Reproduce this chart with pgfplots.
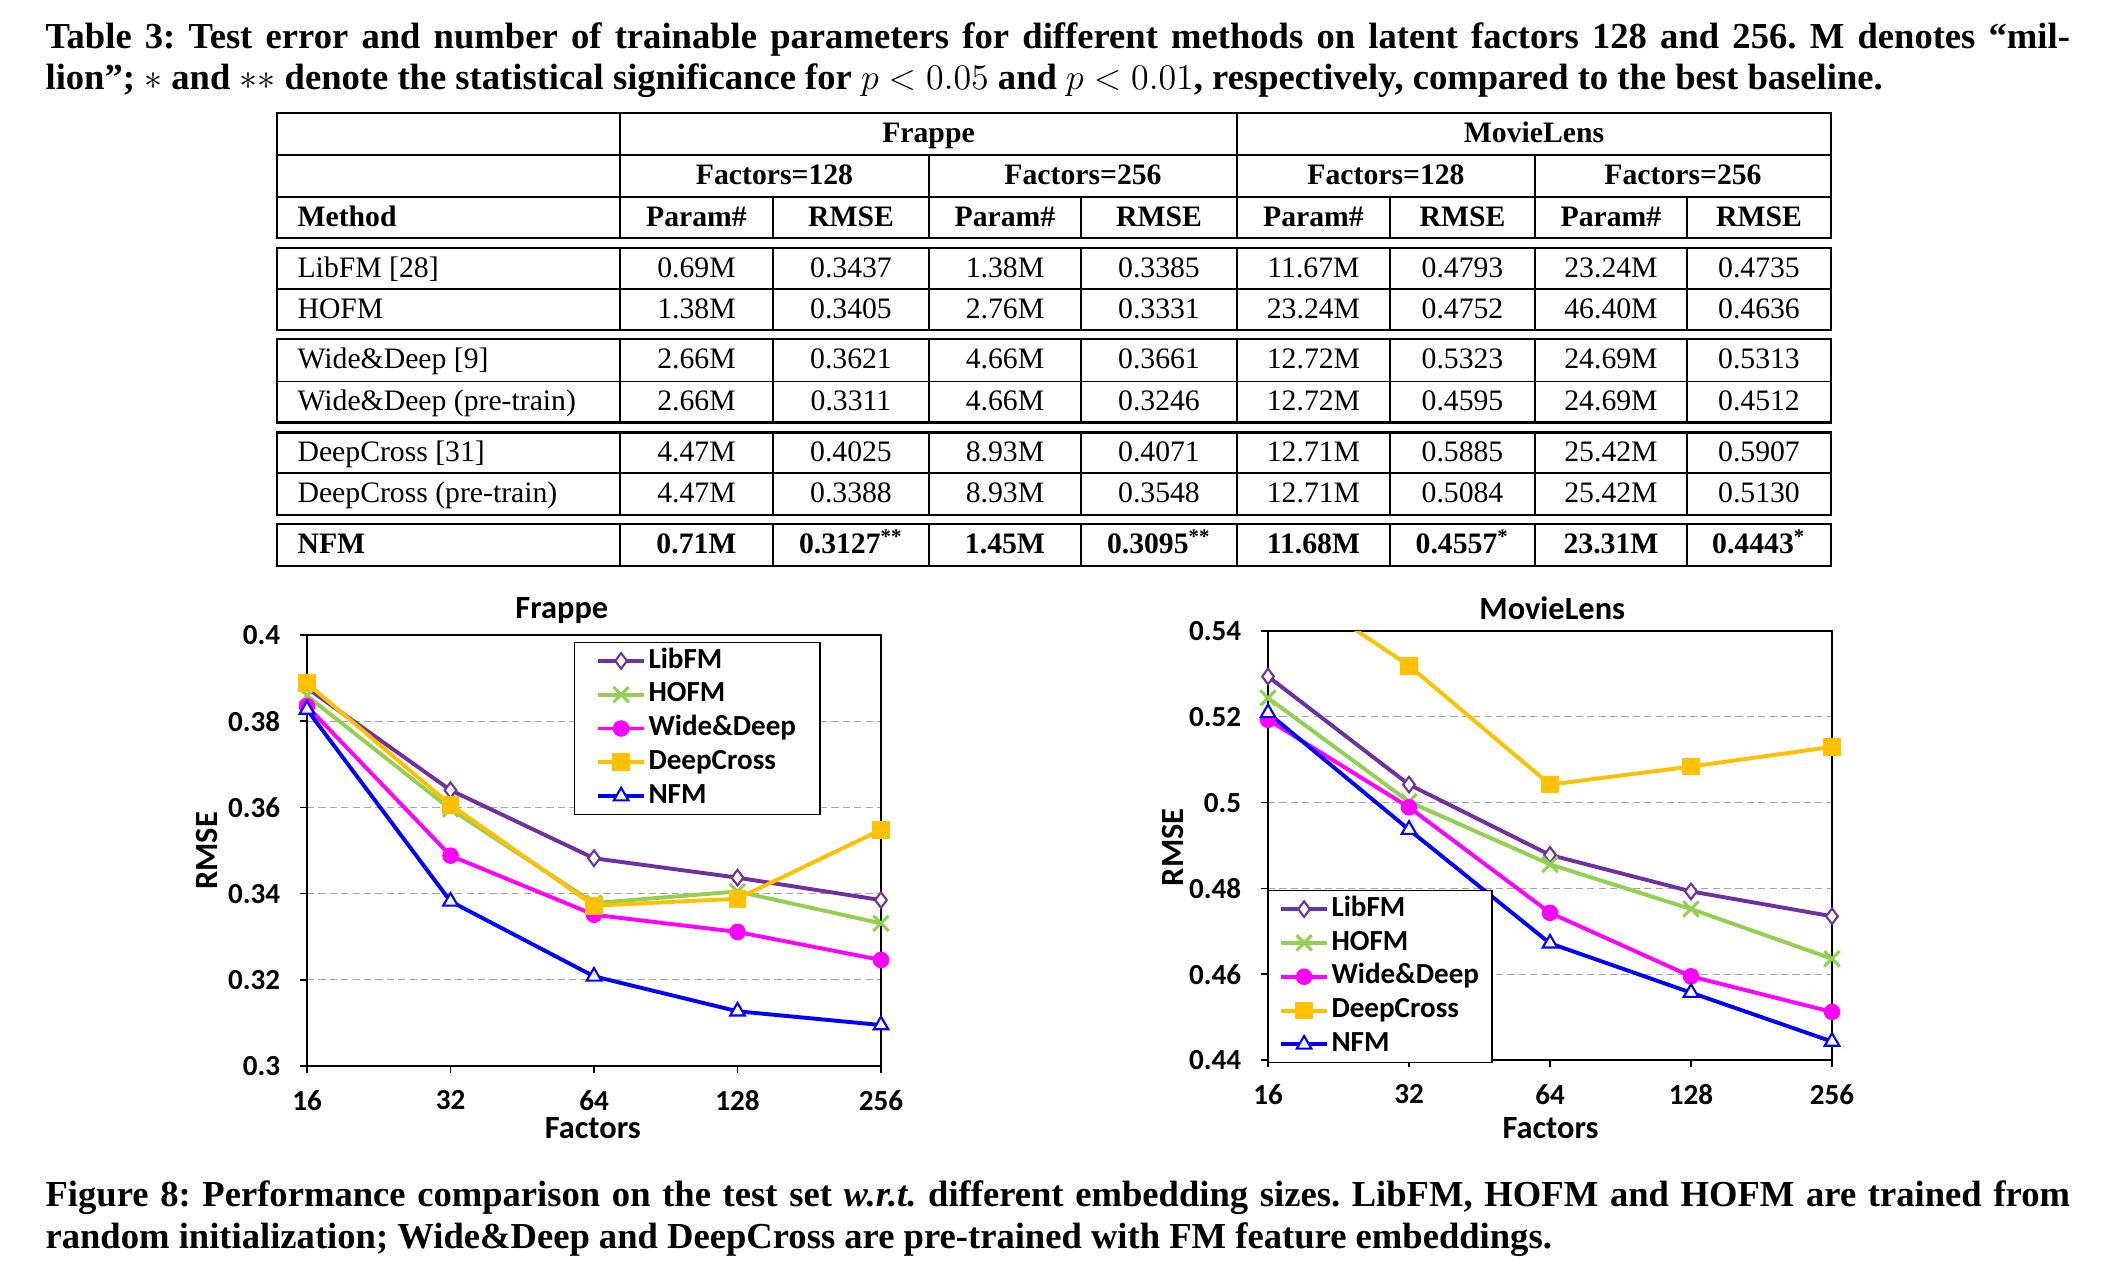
\documentclass[border=0pt]{standalone}
\usepackage{fontspec}
\setmainfont{Liberation Serif}
\newfontfamily\calibri{Carlito}
\usepackage{pgfplots}
\pgfplotsset{compat=1.18}
\definecolor{cLib}{HTML}{7030A0}
\definecolor{cHO}{HTML}{92D050}
\definecolor{cWD}{HTML}{FF00FF}
\definecolor{cDC}{HTML}{FFC000}
\definecolor{cNFM}{HTML}{0000FF}
\definecolor{gridc}{HTML}{A6A6A6}
\newcommand\chfont{\calibri\bfseries\fontsize{9.7}{11}\selectfont}
\newcommand\chlfont{\calibri\bfseries\fontsize{10.8}{12}\selectfont}
\newcommand\capfont{\bfseries\fontsize{12.2}{14}\selectfont\frenchspacing}
\newcommand\vals[9]{%
 \node[anchor=base] at (696.5,#1) {#2};
 \node[anchor=base] at (851,#1) {#3};
 \node[anchor=base] at (1005,#1) {#4};
 \node[anchor=base] at (1159,#1) {#5};
 \node[anchor=base] at (1313.5,#1) {#6};
 \node[anchor=base] at (1462.5,#1) {#7};
 \node[anchor=base] at (1611,#1) {#8};
 \node[anchor=base] at (1759,#1) {#9};}
\newcommand\gbox[3]{%
 \draw[line width=0.8pt] (277,#1) rectangle (1831,#2);
 \draw[line width=0.45pt] (277,#3) -- (1831,#3);
 \foreach \xx in {620,773,929,1081,1237,1390,1535,1687} \draw[line width=0.45pt] (\xx,#1) -- (\xx,#2);}
\pgfplotsset{
  nfmaxis/.style={
    scale only axis, anchor=north west,
    xmin=0, xmax=4, xtick={0,1,2,3,4}, xticklabels={16,32,64,128,256},
    axis line style={black, line width=0.5pt},
    tick align=outside, xtick pos=bottom, ytick pos=left,
    major tick length=2.4pt, tick style={black, line width=0.5pt},
    ymajorgrids, grid style={draw=gridc, line width=0.45pt, dash pattern=on 2.4pt off 1.4pt},
    scaled y ticks=false,
    yticklabel style={/pgf/number format/fixed, /pgf/number format/precision=2, xshift=-3pt},
    xticklabel style={yshift=-2.2pt},
    /pgf/number format/assume math mode=true,
    tick label style={font=\chfont},
    label style={font=\chlfont}, title style={font=\chlfont},
    legend cell align=left,
    legend image code/.code={\draw[mark repeat=2,mark phase=2] plot coordinates {(0cm,0cm) (0.27cm,0cm) (0.54cm,0cm)};},
    legend style={draw=black, fill=white, font=\chfont, row sep=0pt, inner ysep=0.5pt,
      nodes={inner xsep=0.8pt, inner ysep=0.4pt, text height=7.6pt, text depth=2.87pt}, anchor=north west},
  },
  libfm/.style={color=cLib, line width=1.3pt, mark=diamond*, mark size=2.6pt, mark options={fill=white, line width=0.7pt}},
  hofm/.style={color=cHO, line width=1.3pt, mark=x, mark size=3.6pt, mark options={line width=1pt}},
  wd/.style={color=cWD, line width=1.3pt, mark=*, mark size=2.1pt, mark options={fill=cWD}},
  dc/.style={color=cDC, line width=1.3pt, mark=square*, mark size=2.3pt, mark options={fill=cDC}},
  nfm/.style={color=cNFM, line width=1.3pt, mark=triangle*, mark size=2.8pt, mark options={fill=white, line width=0.7pt}},
}
\begin{document}
\begin{tikzpicture}
\path[use as bounding box] (0,0) rectangle (706pt,-426.6667pt);
\begin{scope}[x=0.333333pt,y=-0.333333pt]
% captions
\node[anchor=base west, inner sep=0, font=\capfont] at (45,49)
 {\hbox to 674.8pt{Table 3: Test error and number of trainable parameters for different methods on latent factors 128 and 256. M denotes “mil-}};
\node[anchor=base west, inner sep=0, font=\capfont] at (45,90)
 {lion”; $\ast$ and $\ast\ast$ denote the statistical significance for $p<0.05$ and $p<0.01$, respectively, compared to the best baseline.};
\node[anchor=base west, inner sep=0, font=\capfont] at (45,1207)
 {\hbox to 674.8pt{Figure 8: Performance comparison on the test set \textit{w.r.t.} different embedding sizes. LibFM, HOFM and HOFM are trained from}};
\node[anchor=base west, inner sep=0, font=\capfont] at (45,1249)
 {random initialization; Wide\&Deep and DeepCross are pre-trained with FM feature embeddings.};
% table frame
\draw[line width=0.8pt] (277,113) rectangle (1831,238);
\draw[line width=0.45pt] (277,155) -- (1831,155) (277,197) -- (1831,197);
\draw[line width=0.45pt] (620,113) -- (620,238) (1237,113) -- (1237,238) (929,155) -- (929,238) (1535,155) -- (1535,238);
\foreach \xx in {773,1081,1390,1687} \draw[line width=0.45pt] (\xx,197) -- (\xx,238);
\gbox{248}{330}{289}
\gbox{339}{422.7}{381.7}
\gbox{432.7}{515}{473}
\draw[line width=0.8pt] (277,524) rectangle (1831,566);
\foreach \xx in {620,773,929,1081,1237,1390,1535,1687} \draw[line width=0.45pt] (\xx,524) -- (\xx,566);
% table text
\begin{scope}[every node/.style={inner sep=0, font=\fontsize{9.9}{11}\selectfont}]
\node[anchor=base, font=\bfseries\fontsize{9.9}{11}\selectfont] at (928.5,143) {Frappe};
\node[anchor=base, font=\bfseries\fontsize{9.9}{11}\selectfont] at (1534,143) {MovieLens};
\node[anchor=base, font=\bfseries\fontsize{9.9}{11}\selectfont] at (774.5,185) {Factors=128};
\node[anchor=base, font=\bfseries\fontsize{9.9}{11}\selectfont] at (1083,185) {Factors=256};
\node[anchor=base, font=\bfseries\fontsize{9.9}{11}\selectfont] at (1386,185) {Factors=128};
\node[anchor=base, font=\bfseries\fontsize{9.9}{11}\selectfont] at (1683,185) {Factors=256};
\node[anchor=base west, font=\bfseries\fontsize{9.9}{11}\selectfont] at (297,226.5) {Method};
\begin{scope}[every node/.append style={font=\bfseries\fontsize{9.9}{11}\selectfont}]
\vals{226.5}{Param\#}{RMSE}{Param\#}{RMSE}{Param\#}{RMSE}{Param\#}{RMSE}
\end{scope}
\node[anchor=base west] at (297,277.5) {LibFM [28]};
\vals{277.5}{0.69M}{0.3437}{1.38M}{0.3385}{11.67M}{0.4793}{23.24M}{0.4735}
\node[anchor=base west] at (297,318.5) {HOFM};
\vals{318.5}{1.38M}{0.3405}{2.76M}{0.3331}{23.24M}{0.4752}{46.40M}{0.4636}
\node[anchor=base west] at (297,369) {Wide\&Deep [9]};
\vals{369}{2.66M}{0.3621}{4.66M}{0.3661}{12.72M}{0.5323}{24.69M}{0.5313}
\node[anchor=base west] at (297,411) {Wide\&Deep (pre-train)};
\vals{411}{2.66M}{0.3311}{4.66M}{0.3246}{12.72M}{0.4595}{24.69M}{0.4512}
\node[anchor=base west] at (297,462) {DeepCross [31]};
\vals{462}{4.47M}{0.4025}{8.93M}{0.4071}{12.71M}{0.5885}{25.42M}{0.5907}
\node[anchor=base west] at (297,503) {DeepCross (pre-train)};
\vals{503}{4.47M}{0.3388}{8.93M}{0.3548}{12.71M}{0.5084}{25.42M}{0.5130}
\begin{scope}[every node/.append style={font=\bfseries\fontsize{9.9}{11}\selectfont}]
\node[anchor=base west] at (297,554) {NFM};
\vals{554}{0.71M}{0.3127\textsuperscript{**}}{1.45M}{0.3095\textsuperscript{**}}{11.68M}{0.4557\textsuperscript{*}}{23.31M}{0.4443\textsuperscript{*}}
\end{scope}
\end{scope}
\end{scope}
% Frappe chart
\begin{axis}[nfmaxis, at={(102.333pt,-211.667pt)}, width=191.333pt, height=143.667pt,
  ymin=0.3, ymax=0.4, ytick={0.3,0.32,0.34,0.36,0.38,0.4},
  title={Frappe}, title style={at={(axis description cs:0.444,1.057)}, anchor=center, yshift=-6pt},
  xlabel={Factors}, xlabel style={at={(axis description cs:0.498,-0.144)}, anchor=center},
  ylabel={RMSE}, ylabel style={at={(axis description cs:-0.175,0.499)}, anchor=center},
  legend style={at={(0.465,0.984)}, inner xsep=7.2pt}]
\addplot[libfm] coordinates {(0,0.3877) (1,0.3640) (2,0.3482) (3,0.3437) (4,0.3385)};
\addplot[hofm] coordinates {(0,0.3859) (1,0.3596) (2,0.3378) (3,0.3405) (4,0.3331)};
\addplot[wd] coordinates {(0,0.3835) (1,0.3488) (2,0.3351) (3,0.3311) (4,0.3246)};
\addplot[dc] coordinates {(0,0.3888) (1,0.3606) (2,0.3372) (3,0.3388) (4,0.3548)};
\addplot[nfm] coordinates {(0,0.3827) (1,0.3382) (2,0.3208) (3,0.3127) (4,0.3095)};
\legend{LibFM,HOFM,Wide\&Deep,DeepCross,NFM}
\end{axis}
% MovieLens chart
\begin{axis}[nfmaxis, at={(422.667pt,-210.333pt)}, width=188pt, height=143pt,
  ymin=0.44, ymax=0.54, ytick={0.44,0.46,0.48,0.5,0.52,0.54},
  title={MovieLens}, title style={at={(axis description cs:0.504,1.054)}, anchor=center, yshift=-6pt},
  xlabel={Factors}, xlabel style={at={(axis description cs:0.501,-0.159)}, anchor=center},
  ylabel={RMSE}, ylabel style={at={(axis description cs:-0.169,0.496)}, anchor=center},
  legend style={at={(0,0.396)}, inner xsep=3.5pt}]
\addplot[libfm] coordinates {(0,0.5294) (1,0.5042) (2,0.4878) (3,0.4793) (4,0.4735)};
\addplot[hofm] coordinates {(0,0.5244) (1,0.5002) (2,0.4856) (3,0.4752) (4,0.4636)};
\addplot[wd] coordinates {(0,0.5193) (1,0.4989) (2,0.4743) (3,0.4595) (4,0.4512)};
\addplot[dc, mark=none, forget plot] coordinates {(0,0.5540) (1,0.5319)};
\addplot[dc] coordinates {(1,0.5319) (2,0.5042) (3,0.5084) (4,0.5130)};
\addplot[nfm] coordinates {(0,0.5209) (1,0.4937) (2,0.4672) (3,0.4557) (4,0.4443)};
\legend{LibFM,HOFM,Wide\&Deep,DeepCross,NFM}
\end{axis}
\end{tikzpicture}
\end{document}
